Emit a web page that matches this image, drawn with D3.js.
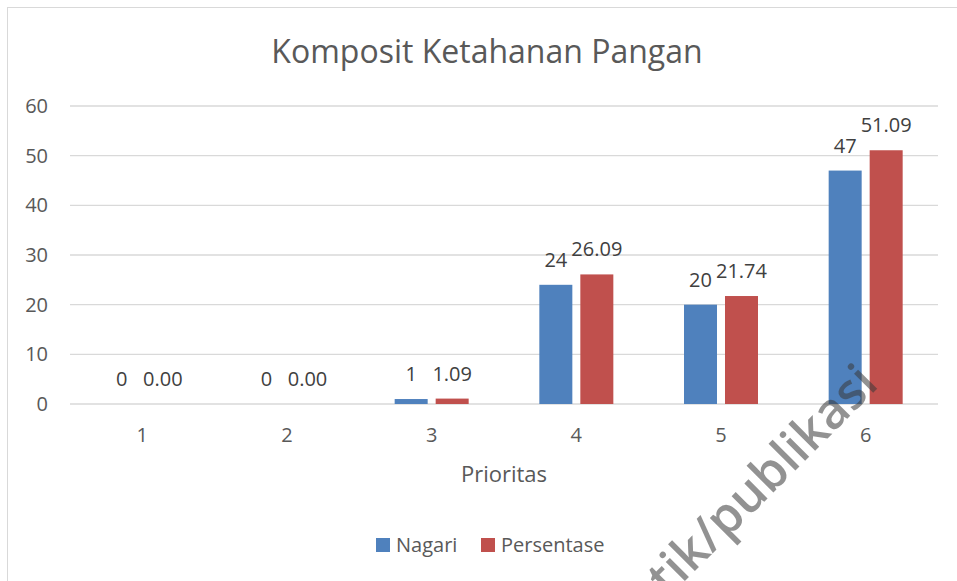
<!DOCTYPE html>
<meta charset="utf-8">
<style>
    body { margin: 0; background: #fff; }
    text { font-family: "Open Sans", sans-serif; fill: #595959; }
    .grid line { stroke: #d9d9d9; stroke-width: 1.3px; }
</style>
<body>
<script src="https://cdn.jsdelivr.net/npm/d3@7"></script>
<script>
    var categories = ["1", "2", "3", "4", "5", "6"];
    var series = ["Nagari", "Persentase"];
    var nagari = [0, 0, 1, 24, 20, 47];
    var persentase = [0.00, 0.00, 1.09, 26.09, 21.74, 51.09];
    var yTicks = [0, 10, 20, 30, 40, 50, 60];
    var color = { Nagari: "#4F81BD", Persentase: "#C0504D" };

    var values = { Nagari: nagari, Persentase: persentase };
    var fmt = { Nagari: d3.format("d"), Persentase: d3.format(".2f") };

    var svg = d3.select("body").append("svg").attr("width", 957).attr("height", 581);

    // chart frame (runs off the right/bottom in the picture)
    svg.append("rect").attr("x", 7.5).attr("y", 7.5).attr("width", 1000).attr("height", 1000)
        .attr("fill", "#fff").attr("stroke", "#d9d9d9");

    var x0 = d3.scaleBand().domain(categories).range([70, 938]);
    var x1 = d3.scaleBand().domain(series).range([0, 74]).paddingInner(0.195);
    var y = d3.scaleLinear().domain([0, 60]).range([404, 106]);

    svg.append("text").attr("x", 487).attr("y", 63).attr("text-anchor", "middle")
        .style("font-size", "32px").text("Komposit Ketahanan Pangan");

    // gridlines
    svg.append("g").attr("class", "grid").selectAll("line").data(yTicks).enter().append("line")
        .attr("x1", 70).attr("x2", 938)
        .attr("y1", d => y(d)).attr("y2", d => y(d));

    svg.append("g").selectAll("text").data(yTicks).enter().append("text")
        .attr("x", 48).attr("y", d => y(d) + 7).attr("text-anchor", "end")
        .style("font-size", "20px").text(d => d);

    svg.append("g").selectAll("text").data(categories).enter().append("text")
        .attr("x", d => x0(d) + x0.bandwidth() / 2).attr("y", 442).attr("text-anchor", "middle")
        .style("font-size", "20px").text(d => d);

    var rows = [];
    categories.forEach(function(c, i) {
        series.forEach(function(s) { rows.push({ cat: c, key: s, v: values[s][i] }); });
    });
    var off = (x0.bandwidth() - 74) / 2;

    svg.append("g").selectAll("rect").data(rows).enter().append("rect")
        .attr("x", d => x0(d.cat) + off + x1(d.key))
        .attr("width", x1.bandwidth())
        .attr("y", d => y(d.v))
        .attr("height", d => y(0) - y(d.v))
        .attr("fill", d => color[d.key]);

    svg.append("g").selectAll("text").data(rows).enter().append("text")
        .attr("x", d => x0(d.cat) + off + x1(d.key) + x1.bandwidth() / 2)
        .attr("y", d => y(d.v) - 18)
        .attr("text-anchor", "middle")
        .style("font-size", "20px").style("fill", "#404040")
        .text(d => fmt[d.key](d.v));

    svg.append("text").attr("x", 504).attr("y", 482).attr("text-anchor", "middle")
        .style("font-size", "22px").text("Prioritas");

    // legend
    var lx = [376, 481];
    var leg = svg.append("g").selectAll("g").data(series).enter().append("g")
        .attr("transform", (d, i) => "translate(" + lx[i] + ",538)");
    leg.append("rect").attr("width", 14).attr("height", 14).attr("fill", d => color[d]);
    leg.append("text").attr("x", 20).attr("y", 14).style("font-size", "20px").text(d => d);

    // watermark
    svg.append("text").attr("transform", "translate(880,386) rotate(-45)")
        .attr("text-anchor", "end")
        .style("font-size", "50px").style("font-weight", 600)
        .style("fill", "#3a3a3a").style("opacity", 0.55)
        .text("tik/publikasi");
</script>
</body>
